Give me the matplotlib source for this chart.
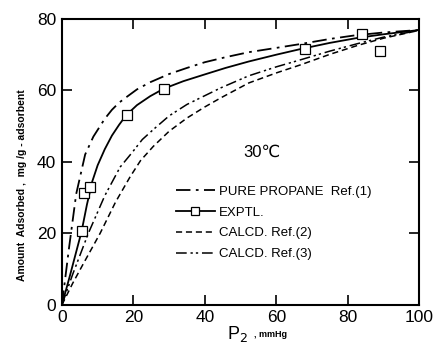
import numpy as np
import matplotlib
matplotlib.use("Agg")
import matplotlib.pyplot as plt

plt.rcParams['font.family'] = ['Liberation Sans', 'DejaVu Sans', 'Noto Sans CJK JP']

# curves (P2 in mmHg, amount in mg/g)
pure_x = [0, 1, 2, 4, 6.5, 8.8, 12, 14, 16, 18, 21, 24.7, 30, 35, 40, 45.8, 52.3, 60, 66.9, 75, 82, 90, 100]
pure_y = [0, 8, 16, 31, 42, 47, 52, 54.5, 56.5, 58, 60.2, 62.2, 64.5, 66.2, 67.8, 69.2, 70.6, 71.8, 72.9, 74.3, 75.3, 76.1, 76.8]

exp_line_x = [0, 2.2, 5.5, 7, 8.5, 10, 12, 14, 16, 18, 21, 24.7, 28.5, 34, 39.7, 45.8, 52.3, 60, 66.9, 75, 82.8, 90, 100]
exp_line_y = [0, 8, 20.5, 28, 34.5, 39, 43.5, 47.3, 50.3, 53, 55.8, 58.3, 60.4, 62.5, 64.3, 66.2, 68.0, 69.9, 71.5, 73.2, 74.6, 75.6, 76.8]

ref3_x = [0, 3, 7.4, 12, 16.3, 19.6, 22.5, 25.6, 30, 35, 44.4, 52.3, 60, 66.9, 75, 82.8, 90, 100]
ref3_y = [0, 8.5, 20, 30.5, 38.5, 42.5, 46.2, 49, 52.8, 56, 60.6, 64, 66.5, 68.5, 70.9, 73, 74.8, 76.7]

ref2_x = [0, 3, 6, 10.7, 15, 19.1, 22, 25.6, 30, 35, 40, 44.4, 52.3, 60, 66.9, 75, 82.8, 90, 100]
ref2_y = [0, 6, 11.5, 20, 28.7, 35.8, 40.3, 44.3, 48.5, 52.2, 55.3, 57.8, 62, 64.8, 67.1, 70, 72.5, 74.5, 76.7]

# experimental points
pts_x = [5.5, 6.2, 7.9, 18.2, 28.5, 68, 84, 89]
pts_y = [20.5, 31.2, 32.8, 53, 60.4, 71.6, 75.8, 71]

fig = plt.figure(figsize=(4.33, 3.5), dpi=100)
ax = fig.add_axes([0.143, 0.129, 0.825, 0.818])

lw = 1.3
ax.plot(pure_x, pure_y, color="black", lw=lw, dashes=[8, 3, 1.5, 3], label="PURE PROPANE  Ref.(1)")
ax.plot(exp_line_x, exp_line_y, color="black", lw=lw)
ax.plot(pts_x, pts_y, linestyle="none", marker="s", mfc="white", mec="black", ms=7, mew=0.9)
ax.plot([], [], color="black", lw=lw, marker="s", mfc="white", mec="black", ms=6, mew=0.9, label="EXPTL.")
ax.plot(ref2_x, ref2_y, color="black", lw=1.1, dashes=[4, 2.5], label="CALCD. Ref.(2)")
ax.plot(ref3_x, ref3_y, color="black", lw=1.1, dashes=[7, 2.5, 1.5, 2, 1.5, 2.5], label="CALCD. Ref.(3)")

ax.set_xlim(0, 100)
ax.set_ylim(0, 80)
ax.set_xticks([0, 20, 40, 60, 80, 100])
ax.set_yticks([0, 20, 40, 60, 80])
ax.tick_params(direction="in", length=7, width=1.2, labelsize=12.5, top=True, right=True, pad=4)
for s in ax.spines.values():
    s.set_linewidth(1.5)

ax.text(56, 42.5, "30℃", fontsize=12, ha="center", va="center")

leg = ax.legend(loc="upper left", bbox_to_anchor=(0.3, 0.44), frameon=False, fontsize=9.5,
                handlelength=3.0, handletextpad=0.3, labelspacing=0.65, borderpad=0)

fig.text(0.05, 0.47, "Amount  Adsorbed ,  mg /g - adsorbent", rotation=90, fontsize=7.5,
         fontweight="bold", ha="center", va="center")
fig.text(0.548, 0.045, "P$_2$", fontsize=13, ha="center", va="center")
fig.text(0.625, 0.045, ", mmHg", fontsize=6.5, fontweight="bold", ha="center", va="center")

fig.savefig("out.png", dpi=100)
